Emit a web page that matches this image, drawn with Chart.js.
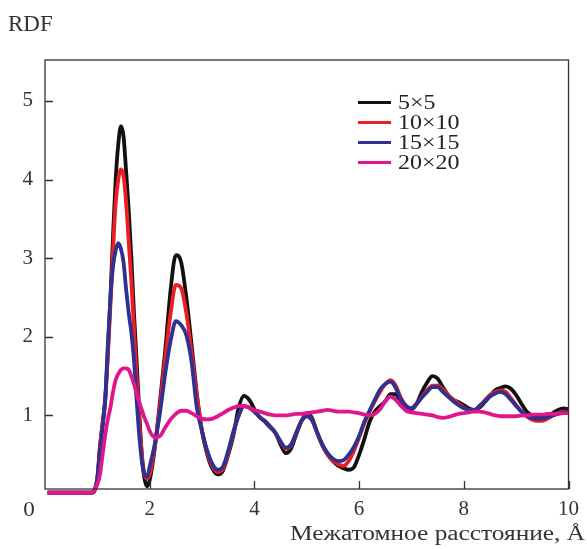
<!DOCTYPE html>
<html>
<head>
<meta charset="utf-8">
<script src="https://cdn.jsdelivr.net/npm/chart.js@4.4.1/dist/chart.umd.min.js"></script>
<style>
html,body{margin:0;padding:0;background:#fff;overflow:hidden;}
#wrap{width:587px;height:549px;}
</style>
</head>
<body>
<div id="wrap"><canvas id="c" width="587" height="549"></canvas></div>
<script>
// Interatomic distance, Å
const distances = [0.05,0.5,0.9,0.95,1.0,1.05,1.1,1.15,1.2,1.25,1.3,1.35,1.4,1.45,1.5,1.55,1.6,1.65,1.7,1.75,1.8,1.85,1.9,1.95,
  2.0,2.1,2.2,2.3,2.4,2.5,2.6,2.7,2.8,2.9,
  3.0,3.1,3.2,3.3,3.4,3.5,3.6,3.7,3.8,3.9,
  4.0,4.1,4.2,4.3,4.4,4.5,4.6,4.7,4.8,4.9,
  5.0,5.1,5.2,5.3,5.4,5.5,5.6,5.7,5.8,5.9,
  6.0,6.1,6.2,6.3,6.4,6.5,6.6,6.7,6.8,6.9,
  7.0,7.1,7.2,7.3,7.4,7.5,7.6,7.7,7.8,7.9,
  8.0,8.1,8.2,8.3,8.4,8.5,8.6,8.7,8.8,8.9,
  9.0,9.1,9.2,9.3,9.4,9.5,9.6,9.7,9.8,9.9,
  10.0];

const seriesLabels = ["5\u00d75","10\u00d710","15\u00d715","20\u00d720"];

const rdf5x5 = [0.02,0.02,0.02,0.05,0.2,0.6,0.9,1.2,1.8,2.5,3.3,4.0,4.45,4.68,4.55,4.1,3.6,3.0,2.3,1.7,1.05,0.5,0.2,0.1,
  0.18,0.6,1.2,1.85,2.6,3.04,2.95,2.5,1.9,1.28,
  0.8,0.5,0.32,0.25,0.3,0.5,0.75,1.1,1.25,1.2,
  1.08,0.98,0.93,0.86,0.78,0.63,0.52,0.58,0.76,0.93,
  1.03,0.97,0.78,0.62,0.5,0.42,0.36,0.33,0.31,0.34,
  0.5,0.7,0.92,1.05,1.12,1.18,1.27,1.27,1.15,1.08,
  1.08,1.15,1.3,1.42,1.5,1.47,1.36,1.26,1.2,1.17,
  1.13,1.09,1.07,1.1,1.17,1.25,1.32,1.35,1.37,1.34,
  1.26,1.15,1.05,1.0,0.98,0.98,1.0,1.03,1.07,1.09,
  1.08];

const rdf10x10 = [0.02,0.02,0.02,0.05,0.2,0.6,0.9,1.2,1.75,2.4,3.1,3.7,4.0,4.13,4.05,3.7,3.2,2.7,2.1,1.5,0.95,0.5,0.25,0.2,
  0.25,0.62,1.15,1.75,2.3,2.66,2.62,2.3,1.8,1.25,
  0.8,0.52,0.35,0.28,0.32,0.52,0.78,1.0,1.12,1.1,
  1.05,0.98,0.92,0.85,0.78,0.66,0.58,0.62,0.78,0.93,
  1.0,0.95,0.78,0.62,0.5,0.42,0.38,0.36,0.42,0.55,
  0.72,0.9,1.05,1.18,1.3,1.4,1.45,1.38,1.22,1.12,
  1.09,1.15,1.24,1.32,1.38,1.38,1.33,1.26,1.2,1.15,
  1.1,1.07,1.07,1.12,1.19,1.26,1.3,1.32,1.3,1.22,
  1.13,1.05,0.99,0.95,0.93,0.93,0.96,1.0,1.03,1.05,
  1.05];

const rdf15x15 = [0.02,0.02,0.02,0.05,0.2,0.55,0.85,1.2,1.9,2.5,2.9,3.1,3.19,3.12,2.95,2.6,2.3,2.05,1.7,1.2,0.75,0.42,0.25,0.22,
  0.35,0.65,1.05,1.55,1.95,2.2,2.15,2.02,1.68,1.1,
  0.8,0.55,0.38,0.31,0.35,0.55,0.8,1.0,1.12,1.1,
  1.05,0.98,0.92,0.85,0.78,0.67,0.59,0.63,0.78,0.93,
  0.99,0.94,0.78,0.63,0.52,0.45,0.42,0.43,0.5,0.6,
  0.74,0.92,1.06,1.2,1.33,1.4,1.43,1.35,1.2,1.12,
  1.09,1.15,1.23,1.3,1.36,1.36,1.3,1.24,1.18,1.13,
  1.09,1.07,1.07,1.12,1.18,1.24,1.28,1.3,1.27,1.2,
  1.12,1.05,1.0,0.97,0.96,0.96,0.98,1.0,1.02,1.04,
  1.05];

const rdf20x20 = [0.02,0.02,0.02,0.06,0.12,0.25,0.5,0.75,0.95,1.1,1.3,1.45,1.53,1.58,1.6,1.6,1.58,1.5,1.4,1.28,1.17,1.07,0.97,0.89,
  0.8,0.72,0.74,0.85,0.95,1.02,1.06,1.06,1.03,0.99,
  0.96,0.95,0.96,0.99,1.03,1.07,1.1,1.12,1.12,1.1,
  1.07,1.05,1.03,1.01,1.0,1.0,1.0,1.01,1.02,1.02,
  1.03,1.04,1.05,1.06,1.07,1.06,1.05,1.05,1.05,1.04,
  1.03,1.01,1.0,1.02,1.08,1.18,1.24,1.2,1.12,1.06,
  1.04,1.03,1.02,1.01,1.0,0.98,0.97,0.98,1.0,1.02,
  1.03,1.04,1.05,1.05,1.04,1.02,1.0,0.99,0.99,0.99,
  0.99,1.0,1.0,1.01,1.01,1.01,1.02,1.02,1.02,1.03,
  1.03];

const xTickValues = [2,4,6,8,10];
const yTickValues = [1,2,3,4,5];
const originLabel = "0";
const yAxisTitle = "RDF";
const xAxisTitle = "\u041c\u0435\u0436\u0430\u0442\u043e\u043c\u043d\u043e\u0435 \u0440\u0430\u0441\u0441\u0442\u043e\u044f\u043d\u0438\u0435, \u00c5";

const colors = ["#111111","#ee1d25","#2e3192","#e0178c"];
const seriesValues = [rdf5x5, rdf10x10, rdf15x15, rdf20x20];

const FONT = "'Liberation Serif','DejaVu Serif',serif";
const AXIS = "#333333";

const datasets = seriesValues.map((vals, k) => ({
  label: seriesLabels[k],
  data: distances.map((x, i) => ({x: x, y: vals[i]})),
  borderColor: colors[k],
  backgroundColor: colors[k],
  borderWidth: 3.8,
  pointRadius: 0,
  fill: false,
  cubicInterpolationMode: 'monotone',
  clip: {left: 0, right: 0, top: 0, bottom: 6},
  order: 4 - k
}));

// draw text horizontally stretched to mimic the wide Computer Modern face
function wideText(ctx, text, x, y, sx, align) {
  const w = ctx.measureText(text).width * sx;
  let left = x;
  if (align === 'right') left = x - w;
  else if (align === 'center') left = x - w / 2;
  ctx.save();
  ctx.translate(left, y);
  ctx.scale(sx, 1);
  ctx.textAlign = 'left';
  ctx.fillText(text, 0, 0);
  ctx.restore();
}

const decor = {
  id: 'decor',
  afterDatasetsDraw(chart) {
    const ctx = chart.ctx;
    const a = chart.chartArea;
    const xs = chart.scales.x, ys = chart.scales.y;
    ctx.save();
    ctx.strokeStyle = AXIS;
    ctx.lineWidth = 1.3;
    ctx.strokeRect(a.left, a.top, a.right - a.left, a.bottom - a.top);
    ctx.beginPath();
    yTickValues.forEach(v => {
      const y = Math.round(ys.getPixelForValue(v)) + 0.5;
      ctx.moveTo(a.left, y); ctx.lineTo(a.left + 8, y);
    });
    xTickValues.forEach(v => {
      const x = Math.round(xs.getPixelForValue(v)) + 0.5;
      ctx.moveTo(x, a.bottom); ctx.lineTo(x, a.bottom - 8);
    });
    ctx.stroke();
    ctx.fillStyle = AXIS;
    ctx.font = "21px " + FONT;
    ctx.textBaseline = 'alphabetic';
    wideText(ctx, originLabel, a.left - 16, a.bottom + 27, 1.1, 'center');
    ctx.font = "23px " + FONT;
    wideText(ctx, yAxisTitle, 8, 31, 1.0, 'left');
    ctx.font = "20px " + FONT;
    const tw = ctx.measureText(xAxisTitle).width;
    wideText(ctx, xAxisTitle, 290, 540, 295 / tw, 'left');
    // legend
    ctx.font = "20px " + FONT;
    ctx.textBaseline = 'alphabetic';
    chart.data.datasets.forEach((d, k) => {
      const y = 102.5 + k * 20;
      ctx.strokeStyle = d.borderColor;
      ctx.lineWidth = 3;
      ctx.beginPath();
      ctx.moveTo(358, y); ctx.lineTo(391, y);
      ctx.stroke();
      ctx.fillStyle = "#222";
      wideText(ctx, d.label, 398, y + 6.5, 1.2, 'left');
    });
    ctx.restore();
  }
};

new Chart(document.getElementById('c'), {
  type: 'line',
  data: {datasets: datasets},
  options: {
    responsive: false,
    animation: false,
    devicePixelRatio: 1,
    layout: {padding: {left: 0, top: 60, right: 16, bottom: 0}},
    plugins: {legend: {display: false}, tooltip: {enabled: false}},
    scales: {
      x: {
        type: 'linear', min: 0, max: 10,
        grid: {display: false, drawTicks: false},
        border: {display: false},
        ticks: {font: {family: FONT, size: 21}, color: AXIS, padding: 8, maxRotation: 0},
        afterBuildTicks(s) { s.ticks = xTickValues.map(v => ({value: v})); },
        afterFit(s) { s.height = 60; }
      },
      y: {
        type: 'linear', min: 0.065, max: 5.52,
        grid: {display: false, drawTicks: false},
        border: {display: false},
        ticks: {font: {family: FONT, size: 21}, color: AXIS, padding: 12},
        afterBuildTicks(s) { s.ticks = yTickValues.map(v => ({value: v})); },
        afterFit(s) { s.width = 45; }
      }
    }
  },
  plugins: [decor]
});
</script>
</body>
</html>
